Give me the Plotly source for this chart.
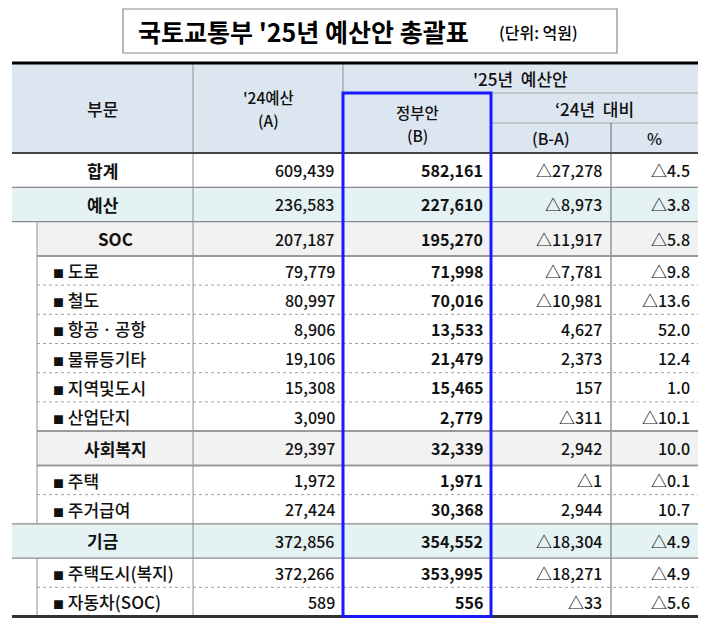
import plotly.graph_objects as go

# 부문별 값 (단위: 억원)
labels = ['합계', '예산', 'SOC', '도로', '철도', '항공ㆍ공항', '물류등기타', '지역및도시', '산업단지',
          '사회복지', '주택', '주거급여', '기금', '주택도시(복지)', '자동차(SOC)']
# 0: 합계, 1: 예산/기금, 2: 분야, 3: 세부
levels = [0, 1, 2, 3, 3, 3, 3, 3, 3, 2, 3, 3, 1, 3, 3]
budget_24 = [609439, 236583, 207187, 79779, 80997, 8906, 19106, 15308, 3090,
             29397, 1972, 27424, 372856, 372266, 589]
gov_25 = [582161, 227610, 195270, 71998, 70016, 13533, 21479, 15465, 2779,
          32339, 1971, 30368, 354552, 353995, 556]
diff = [-27278, -8973, -11917, -7781, -10981, 4627, 2373, 157, -311,
        2942, -1, 2944, -18304, -18271, -33]
pct = [-4.5, -3.8, -5.8, -9.8, -13.6, 52.0, 12.4, 1.0, -10.1,
       10.0, -0.1, 10.7, -4.9, -4.9, -5.6]

title = "국토교통부 '25년 예산안 총괄표"
unit = "(단위: 억원)"

# 레이아웃 (페이지 body 여백 8px 보정)
W, H = 710, 629
OFF = 8
FONT = "Noto Sans CJK KR"
col_x = [12, 193, 343, 491, 611, 698]
indent_x = 37
hdr = [63, 93, 123, 153]
row_h = {0: 34.3, 1: 34.3, 2: 34.3, 3: 29.2}
bg = {1: '#e4f2f3', 2: '#f2f2f2'}
GRID = '#8f8f8f'


def fmt_num(v):
    return f'{v:,}'


def fmt_diff(v):
    return ('△' if v < 0 else '') + f'{abs(v):,}'


def fmt_pct(v):
    return ('△' if v < 0 else '') + f'{abs(v):.1f}'


# 행 위치 계산
tops = []
y = hdr[3]
for lv in levels:
    tops.append(y)
    y += row_h[lv]
bottom = y

shapes = []
annotations = []


def hline(x0, x1, yy, color=GRID, width=1, dash='solid'):
    shapes.append(dict(type='line', x0=x0, x1=x1, y0=yy, y1=yy,
                       line=dict(color=color, width=width, dash=dash)))


def vline(xx, y0, y1, color=GRID, width=1):
    shapes.append(dict(type='line', x0=xx, x1=xx, y0=y0, y1=y1,
                       line=dict(color=color, width=width)))


def text(x, y, s, size=16, anchor='center', weight=500, color='#111'):
    annotations.append(dict(x=x, y=y, text=s, showarrow=False, xanchor=anchor, yanchor='middle',
                            font=dict(family=FONT, size=size, color=color, weight=weight)))


# 제목 박스
shapes.append(dict(type='rect', x0=123, x1=617, y0=9, y1=53,
                   line=dict(color='#8a8a8a', width=1.2), fillcolor='white'))
text(136, 31, title, size=25, anchor='left', weight='bold', color='#000')
text(497, 32, unit, size=16, anchor='left', color='#000')

# 헤더 배경
shapes.append(dict(type='rect', x0=col_x[0], x1=col_x[-1], y0=hdr[0], y1=hdr[3],
                   line=dict(width=0), fillcolor='#dce6f1', layer='below'))

# 행 배경
for i, lv in enumerate(levels):
    if lv in bg:
        x0 = col_x[0] if lv == 1 else indent_x
        shapes.append(dict(type='rect', x0=x0, x1=col_x[-1], y0=tops[i], y1=tops[i] + row_h[lv],
                           line=dict(width=0), fillcolor=bg[lv], layer='below'))

# 헤더 선
hline(col_x[2], col_x[-1], hdr[1], color='#a8a8a8')
hline(col_x[3], col_x[-1], hdr[2], color='#a8a8a8')
vline(col_x[1], hdr[0], bottom)
vline(col_x[2], hdr[0], hdr[1])
vline(col_x[3], hdr[1], bottom)
vline(col_x[4], hdr[2], bottom, color='#666')

# 헤더 텍스트
text((col_x[0] + col_x[1]) / 2, 108, '부문', size=17)
text((col_x[1] + col_x[2]) / 2, 97, "'24예산", size=15.5)
text((col_x[1] + col_x[2]) / 2, 120, '(A)', size=15.5)
text((col_x[2] + col_x[-1]) / 2, 78, "'25년  예산안", size=17)
text((col_x[2] + col_x[3]) / 2, 112, '정부안', size=15.5)
text((col_x[2] + col_x[3]) / 2, 135, '(B)', size=15.5)
text((col_x[3] + col_x[-1]) / 2, 108, '‘24년  대비', size=17)
text((col_x[3] + col_x[4]) / 2, 138, '(B-A)')
text((col_x[4] + col_x[5]) / 2, 138, '%')

# 행 구분선
for i in range(len(levels) - 1):
    yy = tops[i + 1]
    cur, nxt = levels[i], levels[i + 1]
    if cur <= 1 or nxt <= 1:
        hline(col_x[0], col_x[-1], yy, color='#8a8a8a', width=1.3)
    elif cur == 2 or nxt == 2:
        hline(indent_x, col_x[-1], yy, color='#9a9a9a', width=2)
    else:
        hline(indent_x, col_x[-1], yy, color='#a0a0a0', width=1, dash='dot')

# 들여쓰기 세로선
i = 0
while i < len(levels):
    if levels[i] >= 2:
        j = i
        while j + 1 < len(levels) and levels[j + 1] >= 2:
            j += 1
        vline(indent_x, tops[i], tops[j] + row_h[levels[j]])
        i = j + 1
    else:
        i += 1

# 셀 텍스트
for i, lv in enumerate(levels):
    cy = tops[i] + row_h[lv] / 2
    if lv <= 1:
        text((col_x[0] + col_x[1]) / 2, cy, labels[i], size=17, weight='bold')
    elif lv == 2:
        text((indent_x + col_x[1]) / 2, cy, labels[i], size=17, weight='bold')
    else:
        text(indent_x + 14, cy, '<span style="font-size:11px">■</span> ' + labels[i],
             size=17, anchor='left')
    text(col_x[2] - 6, cy, fmt_num(budget_24[i]), anchor='right')
    text(col_x[3] - 6, cy, fmt_num(gov_25[i]), anchor='right', weight='bold')
    text(col_x[4] - 7, cy, fmt_diff(diff[i]), anchor='right')
    text(col_x[5] - 6, cy, fmt_pct(pct[i]), anchor='right')

# 굵은 상/하단선
hline(col_x[0], col_x[-1], hdr[0], color='#000', width=3)
hline(col_x[0], col_x[-1], hdr[3], color='#444', width=2)
hline(col_x[0], col_x[-1], bottom, color='#333', width=3)

# 정부안 강조 박스
shapes.append(dict(type='rect', x0=col_x[2], x1=col_x[3], y0=hdr[1], y1=bottom,
                   line=dict(color='#1a1aff', width=3), fillcolor='rgba(0,0,0,0)'))

fig = go.Figure()
fig.update_layout(
    width=W, height=H,
    margin=dict(l=0, r=0, t=0, b=0),
    paper_bgcolor='white', plot_bgcolor='white',
    xaxis=dict(range=[OFF, W + OFF], visible=False, fixedrange=True),
    yaxis=dict(range=[H + OFF, OFF], visible=False, fixedrange=True),
    shapes=shapes,
    annotations=annotations,
    showlegend=False,
)

fig.write_html("out.html")
